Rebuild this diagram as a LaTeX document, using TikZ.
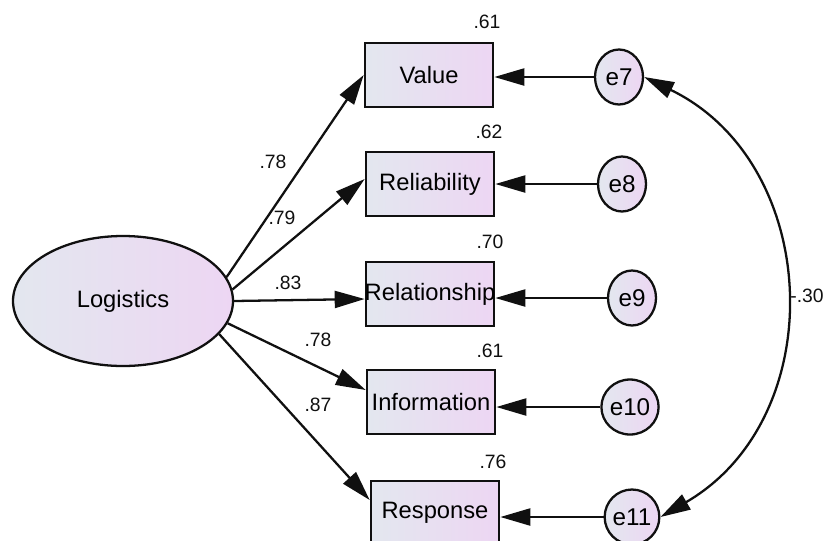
\documentclass[tikz,border=0pt]{standalone}
\usepackage{fontspec}
\setmainfont{Liberation Sans}
\usepackage{tikz}
\usetikzlibrary{arrows.meta,shapes.geometric}
\definecolor{Ink}{HTML}{101010}
\definecolor{ShadeL}{HTML}{E3E7EF}
\definecolor{ShadeR}{HTML}{EDD6F3}
\tikzset{
  obs/.style={draw=Ink,line width=1.5pt,left color=ShadeL,right color=ShadeR,minimum width=25.6mm,minimum height=12.8mm,inner sep=0pt,font=\fontsize{13.5}{16}\selectfont},
  latent/.style={ellipse,draw=Ink,line width=1.3pt,left color=ShadeL,right color=ShadeR,minimum width=44mm,minimum height=26mm,inner sep=0pt,font=\fontsize{13.5}{16}\selectfont},
  err/.style={ellipse,draw=Ink,line width=1.3pt,left color=ShadeL,right color=ShadeR,minimum width=9.6mm,minimum height=11mm,inner sep=0pt,font=\fontsize{13.8}{16}\selectfont},
  est/.style={inner sep=0pt,text=Ink,font=\fontsize{11}{13}\selectfont},
  load/.style={-{Triangle[length=6mm,width=3.4mm]},draw=Ink,line width=1.3pt},
  cov/.style={{Triangle[length=6mm,width=3.4mm]}-{Triangle[length=6mm,width=3.4mm]},draw=Ink,line width=1.3pt}
}

\begin{document}
\begin{tikzpicture}[x=0.2mm,y=-0.2mm]
  \useasboundingbox (0,0) rectangle (827,540);
  % latent factor and indicators
  \node[latent] (logi) at (123,301) {Logistics};
  \node[obs] (value) at (429,75) {Value};
  \node[obs] (relia) at (430,184) {Reliability};
  \node[obs] (relat) at (430,294) {\makebox[24mm]{Relationship}};
  \node[obs] (info) at (431,402) {Information};
  \node[obs] (resp) at (435,513) {Response};
  % error terms
  \node[err] (e7) at (619,77) {e7};
  \node[err] (e8) at (622,184) {e8};
  \node[err] (e9) at (632,298) {e9};
  \node[err] (e10) at (630,407) {e10};
  \node[err] (e11) at (632,517) {e11};
  % loadings
  \draw[load] (logi.13) -- (value.west);
  \draw[load] (logi.6) -- ([yshift=1mm]relia.west);
  \draw[load] (logi.0) -- ([yshift=-1mm]relat.west);
  \draw[load] (logi.-12) -- ([yshift=2.4mm]info.west);
  \draw[load] (logi.-19) -- ([yshift=2.6mm]resp.west);
  \node[est] (l7) at (273,162) {.78};
  \node[est] (l8) at (282,218) {.79};
  \node[est] (l9) at (288,283) {.83};
  \node[est] (l10) at (318,340) {.78};
  \node[est] (l11) at (318,405) {.87};
  % squared multiple correlations
  \node[est] (r7) at (487,22) {.61};
  \node[est] (r8) at (489,132) {.62};
  \node[est] (r9) at (490,242) {.70};
  \node[est] (r10) at (490,351) {.61};
  \node[est] (r11) at (493,462) {.76};
  % residual paths
  \draw[load] (e7) -- (e7 -| value.east);
  \draw[load] (e8) -- (e8 -| relia.east);
  \draw[load] (e9) -- (e9 -| relat.east);
  \draw[load] (e10) -- (e10 -| info.east);
  \draw[load] (e11) -- (e11 -| resp.east);
  % error covariance
  \draw[cov] (e7.east) to[bend left=62,looseness=1.15] (e11.east);
  \node[est] (c711) at (807,296) {-.30};
\end{tikzpicture}
\end{document}
